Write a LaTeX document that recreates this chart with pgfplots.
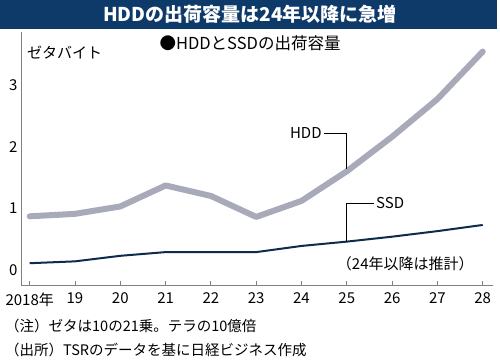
\documentclass[border=0pt]{standalone}
\usepackage{fontspec}
\setmainfont{Noto Sans CJK JP}
\usepackage{pgfplots}
\pgfplotsset{compat=1.18}
\definecolor{titlebar}{HTML}{0E3A6A}
\definecolor{hddc}{HTML}{A8A9B9}
\definecolor{ssdc}{HTML}{0D2B4C}
\definecolor{axc}{HTML}{808080}
\begin{document}
\begin{tikzpicture}[x=1pt,y=1pt]
\useasboundingbox (0,0) rectangle (500,363);
\fill[white] (0,0) rectangle (500,363);
\fill[titlebar] (0,334) rectangle (497,363);
\node[text=white,font=\fontsize{19}{19}\selectfont\bfseries] at (250,349) {HDDの出荷容量は24年以降に急増};
\begin{axis}[
  at={(21pt,78pt)}, anchor=south west,
  scale only axis, width=471.7pt, height=253pt,
  xmin=2017.808, xmax=2028.22, ymin=-0.243, ymax=3.857,
  axis x line=bottom, axis y line=left,
  axis line style={axc, line width=0.8pt, -},
  xtick={2018,...,2028},
  xticklabels={2018年,19,20,21,22,23,24,25,26,27,28},
  ytick={0,1,2,3},
  yticklabels={0,1,2,3},
  x tick style={axc, line width=0.8pt},
  tick align=inside,
  major tick length=3.5pt,
  y tick style={draw=none},
  tick label style={font=\fontsize{15}{15}\selectfont, text=black},
  xticklabel style={yshift=-4pt},
  yticklabel style={xshift=0pt},
  clip=false,
]
\addplot[hddc, line width=6pt, line cap=round, line join=round] coordinates {
 (2018,0.87) (2019,0.91) (2020,1.03) (2021,1.37) (2022,1.20) (2023,0.86)
 (2024,1.12) (2025,1.60) (2026,2.16) (2027,2.77) (2028,3.54)};
\addplot[ssdc, line width=2pt] coordinates {
 (2018,0.11) (2019,0.14) (2020,0.23) (2021,0.29) (2022,0.29) (2023,0.29)
 (2024,0.39) (2025,0.46) (2026,0.54) (2027,0.63) (2028,0.73)};
\draw[black, line width=0.7pt] (axis cs:2024.5,2.22) -- (axis cs:2025,2.22) -- (axis cs:2025,1.64);
\node[anchor=east, inner sep=1pt, font=\fontsize{15}{15}\selectfont] at (axis cs:2024.47,2.22) {HDD};
\draw[black, line width=0.7pt] (axis cs:2025.6,1.08) -- (axis cs:2025,1.08) -- (axis cs:2025,0.46);
\node[anchor=west, inner sep=1pt, font=\fontsize{15}{15}\selectfont] at (axis cs:2025.62,1.08) {SSD};
\node[font=\fontsize{15}{15}\selectfont] at (axis cs:2026.29,0.10) {（24年以降は推計）};
\end{axis}
\node[anchor=west, inner sep=0pt, font=\fontsize{15}{15}\selectfont] at (27,310) {ゼタバイト};
\node[font=\fontsize{16.5}{16.5}\selectfont] at (250,320) {●HDDとSSDの出荷容量};
\node[anchor=west, inner sep=0pt, font=\fontsize{14.5}{14.5}\selectfont] at (5,37) {（注）ゼタは10の21乗。テラの10億倍};
\node[anchor=west, inner sep=0pt, font=\fontsize{14.5}{14.5}\selectfont] at (5,13) {（出所）TSRのデータを基に日経ビジネス作成};
\end{tikzpicture}
\end{document}
